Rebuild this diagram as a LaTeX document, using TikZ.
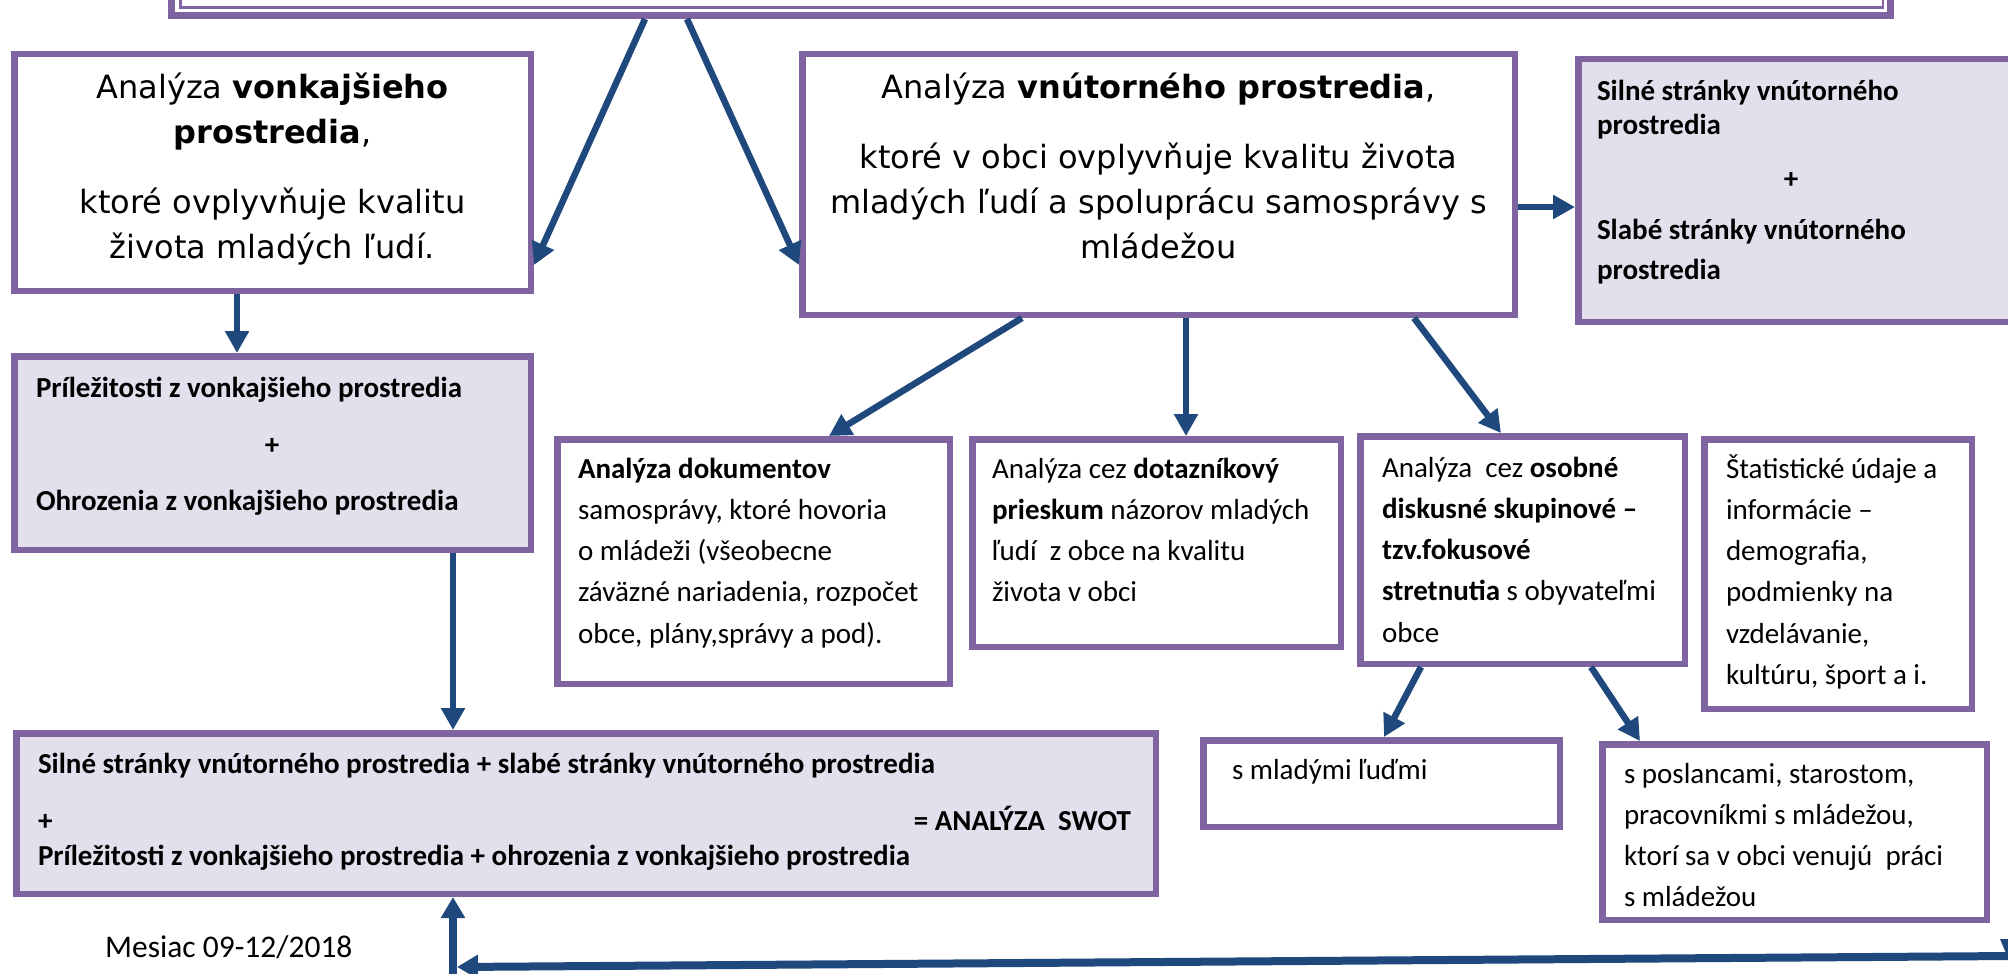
\documentclass[tikz,border=0pt]{standalone}
\usepackage{fontspec}
\setmainfont{Carlito}
\newfontfamily\verfont{DejaVu Sans}
\usetikzlibrary{arrows.meta}
\definecolor{boxpurple}{HTML}{8064A2}
\definecolor{boxfill}{HTML}{E4DFEC}
\definecolor{arrowblue}{HTML}{1F497D}
\newcommand\topstrut{\rule{0pt}{30pt}}
\newcommand\bigstrut{\rule{0pt}{36pt}}
\begin{document}
\begin{tikzpicture}[x=1pt, y=-1pt,
  box/.style={draw=boxpurple, line width=6.5pt, inner sep=0pt, outer sep=3.25pt, anchor=north west},
  fbox/.style={box, fill=boxfill},
  txt/.style={anchor=north west, inner sep=0pt, outer sep=0pt, align=left, font=\fontsize{29}{41.3}\selectfont},
  bigtxt/.style={anchor=north, inner sep=0pt, outer sep=0pt, align=center, font=\verfont\fontsize{32}{45}\selectfont},
  arr/.style={draw=arrowblue, line width=6.5pt, -{Triangle[length=22pt,width=23pt]}},
  arrb/.style={draw=arrowblue, line width=8pt, -{Triangle[length=21pt,width=23pt]}}
]
\useasboundingbox (0,0) rectangle (2008,974);
\fill[white] (0,0) rectangle (2008,974);
\clip (0,0) rectangle (2008,974);

% top box (cut off at the top)
\node[box, line width=7pt, outer sep=3.5pt, anchor=south west, minimum width=1719pt, minimum height=120pt] (topbox) at (168,19) {};
\draw[boxpurple, line width=2.5pt] (180.5,-120) rectangle (1883,7.5);

% boxes
\node[box, minimum width=516.5pt, minimum height=236.5pt] (lbox) at (11,51) {};
\node[box, minimum width=712.5pt, minimum height=260.5pt] (mbox) at (799,51) {};
\node[fbox, minimum width=460pt, minimum height=262.5pt] (sbox) at (1575,56) {};
\node[fbox, minimum width=516.5pt, minimum height=193.5pt] (pbox) at (11,353) {};
\node[box, minimum width=392.5pt, minimum height=244.5pt] (dbox) at (554,436) {};
\node[box, minimum width=368.5pt, minimum height=207.5pt] (qbox) at (969,436) {};
\node[box, minimum width=324.5pt, minimum height=227.5pt] (obox) at (1357,433) {};
\node[box, minimum width=267.5pt, minimum height=269.5pt] (stbox) at (1701,436) {};
\node[fbox, minimum width=1139.5pt, minimum height=160.5pt] (swot) at (13,730) {};
\node[box, minimum width=356.5pt, minimum height=86.5pt] (mlbox) at (1200,737) {};
\node[box, minimum width=384.5pt, minimum height=175.5pt] (pobox) at (1599,741) {};

% texts
\node[bigtxt] (ltext) at (272.5,62) {\bigstrut Analýza \textbf{vonkajšieho}\\\textbf{prostredia},\\[25pt]ktoré ovplyvňuje kvalitu\\života mladých ľudí.};
\node[bigtxt] (mtext) at (1158.5,62) {\bigstrut Analýza \textbf{vnútorného prostredia},\\[25pt]ktoré v obci ovplyvňuje kvalitu života\\mladých ľudí a spoluprácu samosprávy s\\mládežou};
\node[txt, font=\bfseries\fontsize{29}{34}\selectfont] (stext) at (1597,70) {\topstrut Silné stránky vnútorného\\prostredia\\[71pt]Slabé stránky vnútorného\\[6pt]prostredia};
\node[anchor=base, inner sep=0pt, font=\bfseries\fontsize{29}{34}\selectfont] (splus) at (1791,188) {+};
\node[txt, font=\bfseries\fontsize{29}{41.5}\selectfont] (ptext) at (36,367) {\topstrut Príležitosti z vonkajšieho prostredia\\[71.5pt]Ohrozenia z vonkajšieho prostredia};
\node[anchor=base, inner sep=0pt, font=\bfseries\fontsize{29}{34}\selectfont] (pplus) at (272,454) {+};
\node[txt] (dtext) at (578,448) {\topstrut\textbf{Analýza dokumentov}\\samosprávy, ktoré hovoria\\o mládeži (všeobecne\\záväzné nariadenia, rozpočet\\obce, plány,správy a pod).};
\node[txt] (qtext) at (992,448) {\topstrut Analýza cez \textbf{dotazníkový}\\\textbf{prieskum} názorov mladých\\ľudí\ \ z obce na kvalitu\\života v obci};
\node[txt] (otext) at (1382,447) {\topstrut Analýza\ \ cez \textbf{osobné}\\\textbf{diskusné skupinové –}\\\textbf{tzv.fokusové}\\\textbf{stretnutia} s obyvateľmi\\obce};
\node[txt] (sttext) at (1726,448) {\topstrut Štatistické údaje a\\informácie –\\demografia,\\podmienky na\\vzdelávanie,\\kultúru, šport a i.};
\node[txt, font=\bfseries\fontsize{29}{35}\selectfont] (swtext) at (38,743) {\topstrut Silné stránky vnútorného prostredia + slabé stránky vnútorného prostredia\\[22pt]+\\Príležitosti z vonkajšieho prostredia + ohrozenia z vonkajšieho prostredia};
\node[anchor=base east, inner sep=0pt, font=\bfseries\fontsize{29}{35}\selectfont] (swres) at (1131,830) {= ANALÝZA\ \ SWOT};
\node[txt] (mltext) at (1232,749) {\topstrut s mladými ľuďmi};
\node[txt] (potext) at (1624,753) {\topstrut s poslancami, starostom,\\pracovníkmi s mládežou,\\ktorí sa v obci venujú\ \ práci\\s mládežou};
\node[anchor=base west, inner sep=0pt, font=\fontsize{31.5}{36}\selectfont] (mesiac) at (105,957) {Mesiac 09-12/2018};

% connectors
\draw[arr] (topbox.south -| 645,0) -- (lbox.east |- 0,265);
\draw[arr] (topbox.south -| 687,0) -- (mbox.west |- 0,265);
\draw[arr] (lbox.south -| 237,0) -- (pbox.north -| 237,0);
\draw[arr] (mbox.east |- 0,207) -- (sbox.west |- 0,207);
\draw[arr] (mbox.south -| 1022,0) -- (dbox.north -| 829,0);
\draw[arr] (mbox.south -| 1186,0) -- (qbox.north -| 1186,0);
\draw[arr] (mbox.south -| 1414,0) -- (obox.north -| 1501,0);
\draw[arr] (pbox.south -| 453,0) -- (swot.north -| 453,0);
\draw[arr] (obox.south -| 1421,0) -- (mlbox.north -| 1384,0);
\draw[arr] (obox.south -| 1591,0) -- (pobox.north -| 1640,0);

\coordinate (rightend) at (2012,956);
\coordinate (cornerh) at (457,967);
\coordinate (corner) at (453,980);
\draw[arrb] (rightend) -- (cornerh);
\draw[arrb] (corner) -- (swot.south -| corner);
\fill[arrowblue] (2000,939) -- (2012,939) -- (2012,958) -- (2008,958) -- cycle;
\end{tikzpicture}
\end{document}
